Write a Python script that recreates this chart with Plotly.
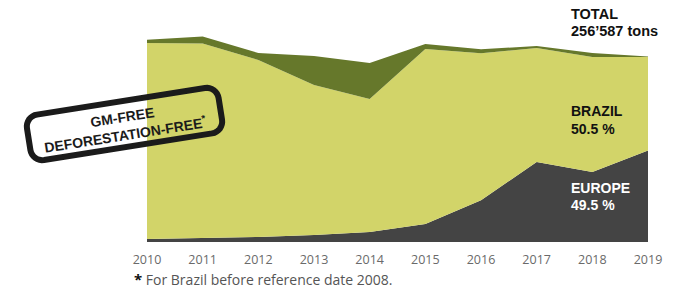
import math
import plotly.graph_objects as go

# ---------------- data (tons) ----------------
years = [2010, 2011, 2012, 2013, 2014, 2015, 2016, 2017, 2018, 2019]
europe_tons = [4200, 5500, 6900, 9700, 13900, 25000, 58000, 111000, 97000, 127011]
brazil_tons = [272000, 270000, 245500, 208000, 184500, 242700, 203900, 158100, 159500, 129576]
other_tons = [4200, 9700, 9700, 40200, 50000, 6900, 5500, 2800, 5500, 800]
tick_labels = [str(y) for y in years]

total_label = ["TOTAL", "256’587 tons"]
brazil_label = ["BRAZIL", "50.5 %"]
europe_label = ["EUROPE", "49.5 %"]
stamp_lines = ["GM-FREE", "DEFORESTATION-FREE"]
footnote = "For Brazil before reference date 2008."

# ---------------- layout geometry ----------------
W, H = 673, 289
ML, MR, MT, MB = 147, 25, 10, 47
PW, PH = W - ML - MR, H - MT - MB
YMAX = 321800

def px(x):
    return (x - ML) / PW

def py(y):
    return (H - MB - y) / PH

LIGHT = "#d2d469"
DARK_GREEN = "#66782b"
DARK_GRAY = "#444444"
BOLD_FONT = "Liberation Sans, Arial, sans-serif"

fig = go.Figure()
for name, vals, col in [("Europe", europe_tons, DARK_GRAY),
                        ("Brazil", brazil_tons, LIGHT),
                        ("Other", other_tons, DARK_GREEN)]:
    fig.add_trace(go.Scatter(x=years, y=vals, name=name, stackgroup="one",
                             mode="lines", line=dict(width=0, color=col),
                             fillcolor=col, hoverinfo="x+y+name"))

# ---------------- stamp (rounded rectangle) ----------------
cx, cy = 124.5, 124.0
sw, sh, rad = 194, 46, 12
ang = math.radians(-9)

def rot(x, y):
    return (cx + x * math.cos(ang) - y * math.sin(ang),
            cy + x * math.sin(ang) + y * math.cos(ang))

pts = []
hw, hh = sw / 2, sh / 2
corners = [(hw - rad, -hh + rad, -90), (hw - rad, hh - rad, 0),
           (-hw + rad, hh - rad, 90), (-hw + rad, -hh + rad, 180)]
for ccx, ccy, a0 in corners:
    for k in range(9):
        a = math.radians(a0 + k * 90 / 8)
        pts.append(rot(ccx + rad * math.cos(a), ccy + rad * math.sin(a)))
path = "M " + " L ".join(f"{px(x):.5f},{py(y):.5f}" for x, y in pts) + " Z"
fig.add_shape(type="path", path=path, xref="paper", yref="paper",
              line=dict(color="#1b1b1b", width=6), fillcolor="rgba(0,0,0,0)")

fig.add_annotation(x=px(124), y=py(126), xref="paper", yref="paper",
                   xanchor="center", yanchor="middle",
                   text=stamp_lines[0] + "<br>" + stamp_lines[1] + "<sup>*</sup>",
                   showarrow=False, textangle=-9,
                   font=dict(family=BOLD_FONT, size=14, color="#1b1b1b", weight="bold"))

# ---------------- labels ----------------
def label(lines, x, ys, color, size):
    for t, y in zip(lines, ys):
        fig.add_annotation(x=px(x), y=py(y), xref="paper", yref="paper", text=t,
                           showarrow=False, xanchor="left", yanchor="middle",
                           font=dict(family=BOLD_FONT, size=size, color=color, weight="bold"))

label(total_label, 569, [14, 31], "#111111", 14.5)
label(brazil_label, 569, [111, 129], "#111111", 14)
label(europe_label, 569, [188, 205], "#ffffff", 14)

fig.add_annotation(x=px(132), y=py(279), xref="paper", yref="paper",
                   text="<span style='font-size:15px;color:#111'><b>*</b></span> "
                        + footnote,
                   showarrow=False, xanchor="left", yanchor="middle",
                   font=dict(family="Open Sans, sans-serif", size=14, color="#555555"))

fig.update_layout(
    width=W, height=H, margin=dict(l=ML, r=MR, t=MT, b=MB),
    paper_bgcolor="white", plot_bgcolor="white", showlegend=False,
    xaxis=dict(range=[2010, 2019], tickvals=years, ticktext=tick_labels,
               showgrid=False, zeroline=False, showline=False, ticks="",
               ticklabelstandoff=8,
               tickfont=dict(family="Open Sans, sans-serif", size=12.5, color="#6a6a6a")),
    yaxis=dict(range=[0, YMAX], visible=False, showgrid=False),
)

fig.write_html("out.html", config={"displayModeBar": False},
               post_script="document.body.style.margin='0';document.body.style.overflow='hidden';")
